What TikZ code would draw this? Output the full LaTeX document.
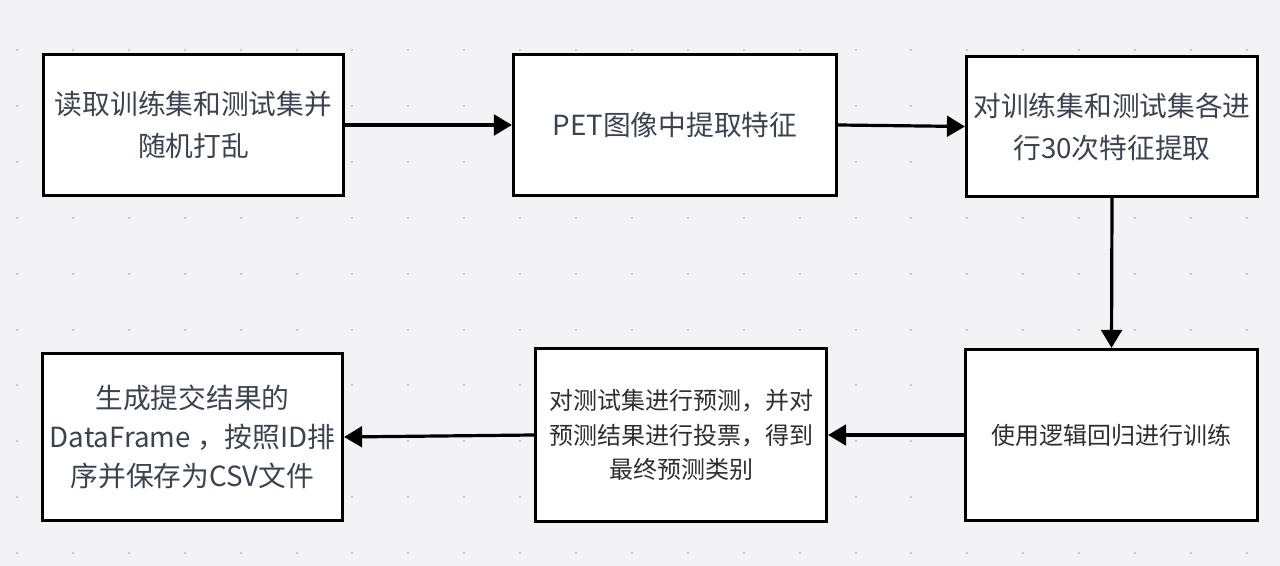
\documentclass[tikz,border=0pt]{standalone}
\usepackage{fontspec}
\setmainfont{Noto Sans CJK SC}
\usetikzlibrary{arrows.meta}
\definecolor{bgc}{HTML}{F3F3F5}
\definecolor{dotc}{HTML}{C8C8CC}
\definecolor{txta}{HTML}{3B4250}
\definecolor{txtb}{HTML}{2E2E2E}
\begin{document}
\begin{tikzpicture}[x=0.75pt,y=-0.75pt,
  box/.style={draw=black, fill=white, line width=2.4pt, align=center, inner sep=0pt},
  bigtxt/.style={font=\fontsize{20.8}{31.5}\selectfont, text=txta},
  smalltxt/.style={font=\fontsize{18}{26}\selectfont, text=txtb},
  conn/.style={line width=2.4pt, -{Triangle[length=13.5pt,width=15.5pt]}}]
\fill[bgc] (0,0) rectangle (1280,566);
\useasboundingbox (0,0) rectangle (1280,566);
\foreach \i in {0,...,22} {
  \foreach \j in {0,...,9} {
    \fill[dotc] ({17+55.9*\i-1},{50+55.9*\j-1}) rectangle ++(2,2);
  }
}
\node[box, bigtxt, minimum width=225pt, minimum height=105.75pt] (b1) at (193.5,125) {读取训练集和测试集并\\随机打乱};
\node[box, bigtxt, minimum width=242.25pt, minimum height=105.75pt] (b2) at (675,125) {PET图像中提取特征};
\node[box, bigtxt, minimum width=218.25pt, minimum height=105pt] (b3) at (1112,126.5) {对训练集和测试集各进\\行30次特征提取};
\node[box, smalltxt, minimum width=219pt, minimum height=128.25pt] (b4) at (1111.5,435) {使用逻辑回归进行训练};
\node[box, smalltxt, minimum width=218.25pt, minimum height=129.75pt] (b5) at (681,435) {对测试集进行预测，并对\\预测结果进行投票，得到\\最终预测类别};
\node[box, bigtxt, font=\fontsize{20.8}{29.5}\selectfont, minimum width=225pt, minimum height=125.25pt] (b6) at (192.5,437) {生成提交结果的\\DataFrame ，按照ID排\\序并保存为CSV文件};
\draw[conn] (b1.east) -- (b2.west);
\draw[conn] (b2.east) -- (b3.west);
\draw[conn] (b3.south) -- (b4.north);
\draw[conn] (b4.west) -- (b5.east);
\draw[conn] (b5.west) -- (b6.east);
\end{tikzpicture}
\end{document}
